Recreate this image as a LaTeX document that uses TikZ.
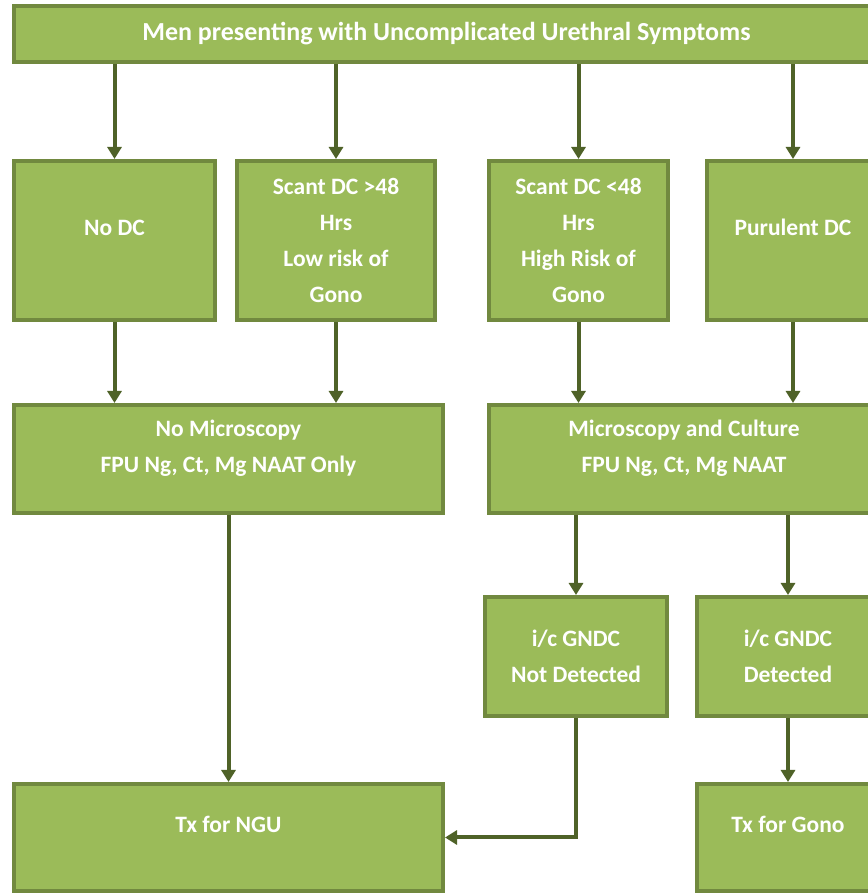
\documentclass[tikz,border=0pt]{standalone}
\usepackage{fontspec}
\setmainfont{Carlito}
\usetikzlibrary{positioning,arrows.meta}
\definecolor{boxfill}{HTML}{9BBB59}
\definecolor{boxline}{HTML}{71893F}
\definecolor{arrline}{HTML}{4F6228}

\begin{document}
\begin{tikzpicture}[x=1pt,y=1pt,font=\bfseries\fontsize{23.5}{36}\selectfont,text=white]
            \tikzstyle{box}=[draw=boxline,fill=boxfill,line width=4pt,align=center,inner sep=0pt]
            \tikzstyle{high}=[text height=16pt,text depth=25pt]
            \tikzstyle{lift}=[text depth=25pt]
            \tikzstyle{arr}=[draw=arrline,line width=4pt,-{Triangle[length=12pt,width=14pt]}]
            \useasboundingbox (0,0) rectangle (867,896);

            \node[box,minimum width=865,minimum height=56,font=\bfseries\fontsize{26}{30}\selectfont] (men) at (446.5,862) {Men presenting with Uncomplicated Urethral Symptoms};

            \node[box,high,minimum width=201,minimum height=159] (nodc) at (114.5,655.5) {No DC};
            \node[box,minimum width=198,minimum height=159] (scantlow) at (336,655.5) {Scant DC >48\\Hrs\\Low risk of\\Gono};
            \node[box,minimum width=179,minimum height=159] (scanthigh) at (578.5,655.5) {Scant DC <48\\Hrs\\High Risk of\\Gono};
            \node[box,high,minimum width=172,minimum height=159] (purulent) at (793,655.5) {Purulent DC};

            \node[box,lift,minimum width=429,minimum height=108] (nomicro) at (228.5,437) {No Microscopy\\FPU Ng, Ct, Mg NAAT Only};
            \node[box,lift,minimum width=390,minimum height=108] (micro) at (684,437) {Microscopy and Culture\\FPU Ng, Ct, Mg NAAT};

            \node[box,minimum width=182,minimum height=119] (notdet) at (576,239.5) {i/c GNDC\\Not Detected};
            \node[box,minimum width=182,minimum height=119] (det) at (788,239.5) {i/c GNDC\\Detected};

            \node[box,high,minimum width=429,minimum height=107] (txngu) at (228.5,58.5) {Tx for NGU};
            \node[box,high,minimum width=182,minimum height=107] (txgono) at (788,58.5) {Tx for Gono};

            \foreach \n in {nodc,scantlow,scanthigh,purulent}
                \draw[arr] (men.south -| \n.north) -- (\n.north);
            \draw[arr] (nodc.south) -- (nodc.south |- nomicro.north);
            \draw[arr] (scantlow.south) -- (scantlow.south |- nomicro.north);
            \draw[arr] (scanthigh.south) -- (scanthigh.south |- micro.north);
            \draw[arr] (purulent.south) -- (purulent.south |- micro.north);
            \draw[arr] (micro.south -| notdet.north) -- (notdet.north);
            \draw[arr] (micro.south -| det.north) -- (det.north);
            \draw[arr] (nomicro.south) -- (txngu.north);
            \draw[arr] (notdet.south) |- (txngu.east);
            \draw[arr] (det.south) -- (txgono.north);
        \end{tikzpicture}
\end{document}
